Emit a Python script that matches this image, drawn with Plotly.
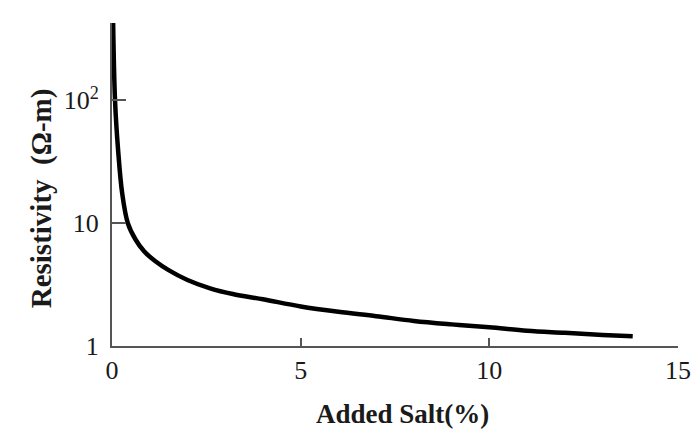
import plotly.graph_objects as go

# Data
salt_pct = [0.03, 0.08, 0.16, 0.27, 0.42, 0.62, 0.85, 1.15, 1.5, 2.0, 2.6, 3.2, 4.0,
            5.0, 6.0, 7.0, 8.0, 9.0, 10.0, 11.0, 12.0, 13.0, 13.8]
resistivity = [426, 100, 40, 17.5, 10, 7.4, 5.9, 4.9, 4.15, 3.45, 2.95, 2.65, 2.4,
               2.1, 1.9, 1.75, 1.6, 1.5, 1.42, 1.33, 1.28, 1.23, 1.2]

x_ticks = [0, 5, 10, 15]
y_ticks = [1, 10, 100]
y_tick_text = ["1", "10", "10<sup>2</sup>"]

serif = "Liberation Serif, Times New Roman, serif"

fig = go.Figure()
fig.add_trace(go.Scatter(
    x=salt_pct, y=resistivity, mode="lines",
    line=dict(color="black", width=4.5, shape="spline", smoothing=1.0),
    showlegend=False, hoverinfo="skip",
))

fig.update_layout(
    width=699, height=432,
    margin=dict(l=104, r=29, t=15, b=94),
    paper_bgcolor="white", plot_bgcolor="white",
    font=dict(family=serif, color="#1a1a1a", size=26),
    xaxis=dict(
        range=[0, 15], tickvals=x_ticks, ticktext=[str(v) for v in x_ticks],
        showline=True, linecolor="#555", linewidth=2, mirror=False,
        ticks="inside", ticklen=8, tickcolor="#555", tickwidth=1.5,
        showgrid=False, zeroline=False, automargin=False,
        tickfont=dict(family=serif, size=26),
    ),
    yaxis=dict(
        type="log", range=[0, 2.63], tickvals=y_ticks, ticktext=y_tick_text,
        showline=True, linecolor="#555", linewidth=2,
        ticks="inside", ticklen=14, tickcolor="#555", tickwidth=1.5,
        showgrid=False, zeroline=False, automargin=False,
        ticklabelstandoff=6,
        tickfont=dict(family=serif, size=26),
    ),
    annotations=[
        dict(text="<b>Added Salt(%)</b>", xref="paper", yref="paper",
             x=0.514, y=-0.21, xanchor="center", yanchor="middle",
             showarrow=False, font=dict(family=serif, size=27, color="#1a1a1a")),
        dict(text="<b>Resistivity  (Ω-m)</b>", xref="paper", yref="paper",
             x=-0.125, y=0.458, xanchor="center", yanchor="middle", textangle=-90,
             showarrow=False, font=dict(family=serif, size=29, color="#1a1a1a")),
    ],
)

fig.write_html("out.html")
